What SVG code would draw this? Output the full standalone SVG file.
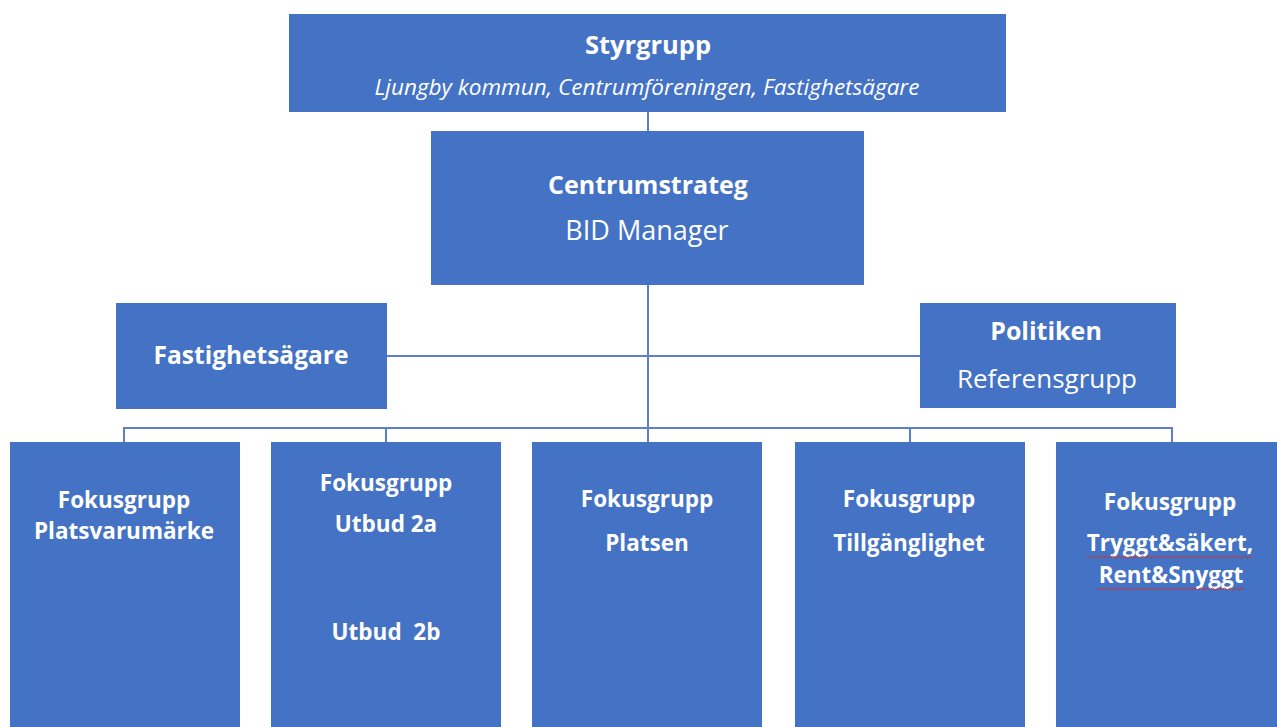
<svg xmlns="http://www.w3.org/2000/svg" width="1277" height="727" viewBox="0 0 1277 727">
<style>
.box{fill:#4472C4;}
.t{font-family:"Open Sans","Liberation Sans",sans-serif;fill:#FFFFFF;text-anchor:middle;}
.b{font-weight:bold;}
.f{font-size:22.5px;}
.ln{stroke:#5B7FC8;stroke-width:2;fill:none;}
.sq{stroke:#C8302C;stroke-width:1;fill:none;}
</style>
<rect width="1277" height="727" fill="#FFFFFF"/>
<g id="connectors">
<line class="ln" x1="648" y1="112" x2="648" y2="131"/>
<line class="ln" x1="648" y1="285" x2="648" y2="428"/>
<line class="ln" x1="387" y1="356" x2="920" y2="356"/>
<line class="ln" x1="124" y1="428" x2="1172" y2="428"/>
<line class="ln" x1="124" y1="427" x2="124" y2="442"/>
<line class="ln" x1="386" y1="427" x2="386" y2="442"/>
<line class="ln" x1="648" y1="427" x2="648" y2="442"/>
<line class="ln" x1="910" y1="427" x2="910" y2="442"/>
<line class="ln" x1="1172" y1="427" x2="1172" y2="442"/>
</g>
<g id="styrgrupp">
<rect class="box" x="289" y="14" width="717" height="98"/>
<text class="t b" x="648" y="54" font-size="25.5">Styrgrupp</text>
<text class="t" x="647" y="95" font-size="22.5" font-style="italic">Ljungby kommun, Centrumföreningen, Fastighetsägare</text>
</g>
<g id="centrumstrateg">
<rect class="box" x="431" y="131" width="433" height="154"/>
<text class="t b" x="648" y="194" font-size="25">Centrumstrateg</text>
<text class="t" x="647" y="240" font-size="27">BID Manager</text>
</g>
<g id="fastighetsagare">
<rect class="box" x="116" y="303" width="271" height="106"/>
<text class="t b" x="251" y="364" font-size="24.5">Fastighetsägare</text>
</g>
<g id="politiken">
<rect class="box" x="920" y="303" width="256" height="105"/>
<text class="t b" x="1046" y="340" font-size="25">Politiken</text>
<text class="t" x="1047" y="388" font-size="26">Referensgrupp</text>
</g>
<g id="fg1">
<rect class="box" x="10" y="442" width="230" height="285"/>
<text class="t b f" x="124" y="508">Fokusgrupp</text>
<text class="t b f" x="124" y="539">Platsvarumärke</text>
</g>
<g id="fg2">
<rect class="box" x="271" y="442" width="230" height="285"/>
<text class="t b f" x="386" y="491">Fokusgrupp</text>
<text class="t b f" x="386" y="532">Utbud 2a</text>
<text class="t b f" x="386" y="640" xml:space="preserve">Utbud  2b</text>
</g>
<g id="fg3">
<rect class="box" x="532" y="442" width="230" height="285"/>
<text class="t b f" x="647" y="507">Fokusgrupp</text>
<text class="t b f" x="647" y="551">Platsen</text>
</g>
<g id="fg4">
<rect class="box" x="795" y="442" width="230" height="285"/>
<text class="t b f" x="909" y="507">Fokusgrupp</text>
<text class="t b f" x="909" y="551">Tillgänglighet</text>
</g>
<g id="fg5">
<rect class="box" x="1056" y="442" width="221" height="285"/>
<text class="t b f" x="1170" y="510">Fokusgrupp</text>
<text class="t b f" x="1170" y="551">Tryggt&amp;säkert,</text>
<text class="t b f" x="1171" y="583">Rent&amp;Snyggt</text>
<path class="sq" d="M1087 557 q1.5 -2 3 0 t3 0 t3 0 t3 0 t3 0 t3 0 t3 0 t3 0 t3 0 t3 0 t3 0 t3 0 t3 0 t3 0 t3 0 t3 0 t3 0 t3 0 t3 0 t3 0 t3 0 t3 0 t3 0 t3 0 t3 0 t3 0 t3 0 t3 0 t3 0 t3 0 t3 0 t3 0 t3 0 t3 0 t3 0 t3 0 t3 0 t3 0 t3 0 t3 0 t3 0 t3 0 t3 0 t3 0 t3 0 t3 0 t3 0 t3 0 t3 0 t3 0 t3 0 t3 0 t3 0 t3 0 t3 0"/>
<path class="sq" d="M1097 589 q1.5 -2 3 0 t3 0 t3 0 t3 0 t3 0 t3 0 t3 0 t3 0 t3 0 t3 0 t3 0 t3 0 t3 0 t3 0 t3 0 t3 0 t3 0 t3 0 t3 0 t3 0 t3 0 t3 0 t3 0 t3 0 t3 0 t3 0 t3 0 t3 0 t3 0 t3 0 t3 0 t3 0 t3 0 t3 0 t3 0 t3 0 t3 0 t3 0 t3 0 t3 0 t3 0 t3 0 t3 0 t3 0 t3 0 t3 0 t3 0 t3 0 t3 0"/>
</g>
</svg>
